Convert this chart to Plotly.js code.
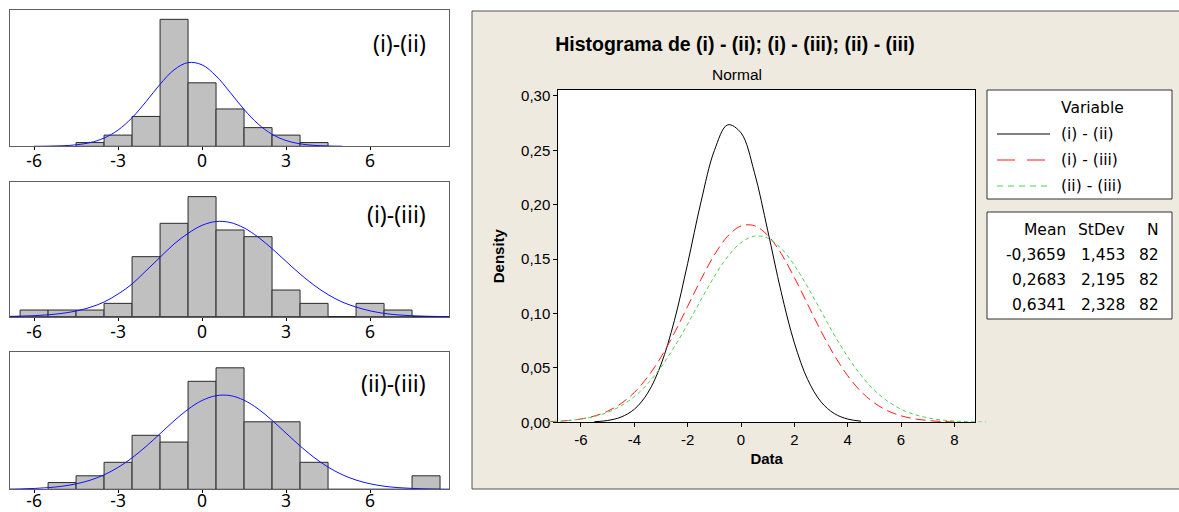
<!DOCTYPE html>
<html>
<head>
<meta charset="utf-8">
<script src="https://cdn.plot.ly/plotly-3.0.1.min.js"></script>
<style>html,body{margin:0;padding:0;background:#fff;}#chart{width:1179px;height:512px;}</style>
</head>
<body>
<div id="chart"></div>
<script>
// ---------- data: left histograms (bin centres, counts) ----------
const panelLabels = ['(i)-(ii)', '(i)-(iii)', '(ii)-(iii)'];
const bins1 = [-4, -3, -2, -1, 0, 1, 2, 3, 4];
const counts1 = [1, 3, 8, 34, 17, 10, 5, 3, 1];
const bins2 = [-6, -5, -4, -3, -2, -1, 0, 1, 2, 3, 4, 5, 6, 7];
const counts2 = [1, 1, 1, 2, 9, 14, 18, 13, 12, 4, 2, 0, 2, 1];
const bins3 = [-5, -4, -3, -2, -1, 0, 1, 2, 3, 4, 5, 6, 7, 8];
const counts3 = [1, 2, 4, 8, 7, 16, 18, 10, 10, 4, 0, 0, 0, 2];

// fitted curves in the left panels (count scale)
const fitX1 = [-6, -5.5, -5, -4.5, -4, -3.5, -3, -2.5, -2, -1.5, -1, -0.5, 0, 0.5, 1, 1.5, 2, 2.5, 3, 3.5, 4, 4.5, 5];
const fitY1 = [0.012, 0.043, 0.14, 0.39, 0.98, 2.20, 4.35, 7.65, 11.97, 16.61, 20.48, 22.42, 21.81, 18.85, 14.47, 9.87, 5.99, 3.22, 1.54, 0.66, 0.25, 0.08, 0.025];
const fitX23 = [-7, -6.5, -6, -5.5, -5, -4.5, -4, -3.5, -3, -2.5, -2, -1.5, -1, -0.5, 0, 0.5, 1, 1.5, 2, 2.5, 3, 3.5, 4, 4.5, 5, 5.5, 6, 6.5, 7, 7.5, 8, 8.5, 9];
const fitY2 = [0.04, 0.08, 0.15, 0.28, 0.5, 0.85, 1.4, 2.2, 3.4, 4.9, 6.9, 8.9, 10.9, 12.5, 13.7, 14.27, 14.13, 13.31, 11.94, 10.2, 8.29, 6.41, 4.72, 3.31, 2.21, 1.45, 0.88, 0.5, 0.27, 0.14, 0.07, 0.03, 0.014];
const fitY3 = [0.028, 0.06, 0.124, 0.244, 0.454, 0.802, 1.344, 2.143, 3.243, 4.66, 6.359, 8.242, 10.14, 11.86, 13.16, 13.87, 13.89, 13.2, 11.92, 10.22, 8.32, 6.43, 4.72, 3.29, 2.18, 1.37, 0.82, 0.46, 0.25, 0.13, 0.062, 0.029, 0.013];

// ---------- data: right panel density curves ----------
const seriesNames = ['(i) - (ii)', '(i) - (iii)', '(ii) - (iii)'];
const densX1 = [-5.5, -5, -4.5, -4, -3.5, -3, -2.5, -2, -1.5, -1, -0.5, 0, 0.5, 1, 1.5, 2, 2.5, 3, 3.5, 4, 4.5];
const densY1 = [0.00053, 0.00168, 0.0048, 0.012, 0.0268, 0.0531, 0.0933, 0.146, 0.2026, 0.2497, 0.2734, 0.266, 0.2299, 0.1765, 0.1204, 0.073, 0.0393, 0.0188, 0.008, 0.003, 0.001];
const densX2 = [-7.3, -7, -6.5, -6, -5.5, -5, -4.5, -4, -3.5, -3, -2.5, -2, -1.5, -1, -0.5, 0, 0.5, 1, 1.5, 2, 2.5, 3, 3.5, 4, 4.5, 5, 5.5, 6, 6.5, 7, 7.5, 8];
const densY2 = [0.0005, 0.00076, 0.00157, 0.00308, 0.00576, 0.0102, 0.0172, 0.0274, 0.0416, 0.06, 0.082, 0.1066, 0.1314, 0.1538, 0.171, 0.1804, 0.1807, 0.1719, 0.1553, 0.1331, 0.1084, 0.0838, 0.0615, 0.0428, 0.0283, 0.0178, 0.0106, 0.006, 0.0032, 0.00165, 0.0008, 0.00037];
const densX3 = [-7.3, -7, -6.5, -6, -5.5, -5, -4.5, -4, -3.5, -3, -2.5, -2, -1.5, -1, -0.5, 0, 0.5, 1, 1.5, 2, 2.5, 3, 3.5, 4, 4.5, 5, 5.5, 6, 6.5, 7, 7.5, 8, 8.5, 9, 9.2];
const densY3 = [0.0005, 0.00079, 0.00157, 0.00295, 0.00533, 0.00916, 0.01506, 0.0236, 0.0354, 0.0507, 0.0693, 0.0903, 0.1126, 0.134, 0.1522, 0.1651, 0.1711, 0.1693, 0.1599, 0.1443, 0.1243, 0.1023, 0.0803, 0.0603, 0.0432, 0.0295, 0.0193, 0.012, 0.0072, 0.0041, 0.0022, 0.00115, 0.00057, 0.00027, 0.0002];

// summary table
const legendTitle = 'Variable';
const statHeader = ['Mean', 'StDev', 'N'];
const statMean = ['-0,3659', '0,2683', '0,6341'];
const statStDev = ['1,453', '2,195', '2,328'];
const statN = ['82', '82', '82'];

const leftTicks = [-6, -3, 0, 3, 6];
const leftTickText = ['-6', '-3', '0', '3', '6'];
const rightXTicks = [-6, -4, -2, 0, 2, 4, 6, 8];
const rightXTickText = ['-6', '-4', '-2', '0', '2', '4', '6', '8'];
const rightYTicks = [0, 0.05, 0.10, 0.15, 0.20, 0.25, 0.30];
const rightYTickText = ['0,00', '0,05', '0,10', '0,15', '0,20', '0,25', '0,30'];

// ---------- helpers ----------
const W = 1179, H = 512;
const px = v => v / W;
const py = v => 1 - v / H;

const seriesColors = ['#000000', '#ff1a1a', '#55cc55'];
const plotDash = ['solid', '10px,5px', '4px,3px'];
const legendDash = ['solid', '18px,12px', '6px,5px'];

const barStyle = {color: '#c0c0c0', line: {color: '#2a2a2a', width: 1}};
const blue = {color: '#1010ff', width: 1, shape: 'spline'};
const leftFont = {family: 'Noto Sans, Open Sans, sans-serif', size: 17.5, color: '#000'};
const rightFont = {family: 'Liberation Sans, Arial, sans-serif', size: 15, color: '#000'};
const boxFont = {family: 'DejaVu Sans, Verdana, sans-serif', size: 15.5, color: '#000'};

// right-panel scale: 26.67 px per unit, zero at x=741 px; curve layer is a wider window at the same scale
const rScale = 26.67, rZero = 741;
const curveLeft = 545, curveRight = 1002;

const traces = [
  {type: 'bar', x: bins1, y: counts1, width: 1, marker: barStyle, xaxis: 'x', yaxis: 'y'},
  {type: 'scatter', mode: 'lines', x: fitX1, y: fitY1, line: blue, xaxis: 'x', yaxis: 'y'},
  {type: 'bar', x: bins2, y: counts2, width: 1, marker: barStyle, xaxis: 'x2', yaxis: 'y2'},
  {type: 'scatter', mode: 'lines', x: fitX23, y: fitY2, line: blue, xaxis: 'x2', yaxis: 'y2'},
  {type: 'bar', x: bins3, y: counts3, width: 1, marker: barStyle, xaxis: 'x3', yaxis: 'y3'},
  {type: 'scatter', mode: 'lines', x: fitX23, y: fitY3, line: blue, xaxis: 'x3', yaxis: 'y3'},
  // empty trace so that the framed density axes are created
  {type: 'scatter', mode: 'lines', x: [], y: [], xaxis: 'x4', yaxis: 'y4', hoverinfo: 'skip'}
];
[[densX1, densY1], [densX2, densY2], [densX3, densY3]].forEach((d, i) => {
  traces.push({type: 'scatter', mode: 'lines', name: seriesNames[i], x: d[0], y: d[1],
    line: {color: seriesColors[i], width: 1, dash: plotDash[i], shape: 'spline'}, xaxis: 'x5', yaxis: 'y5'});
});

function leftX(anchor, standoff) {
  return {
    anchor: anchor, domain: [px(10), px(449)], range: [-6.86, 8.82], tickvals: leftTicks, ticktext: leftTickText,
    ticks: 'outside', ticklen: 3, tickcolor: '#000', ticklabelstandoff: standoff, showgrid: false, zeroline: false,
    showline: true, mirror: true, linecolor: '#606060', linewidth: 1, tickfont: leftFont
  };
}
function leftY(anchor, dom, top) {
  return {anchor: anchor, domain: dom, range: [0, top], showticklabels: false, ticks: '', showgrid: false,
    zeroline: true, zerolinecolor: '#222', zerolinewidth: 1.5, showline: true, mirror: true, linecolor: '#606060', linewidth: 1};
}

const titleFont = {family: 'Liberation Sans, Arial, sans-serif', size: 15, color: '#000'};
const layout = {
  width: W, height: H,
  margin: {l: 0, r: 0, t: 0, b: 0},
  paper_bgcolor: '#ffffff', plot_bgcolor: 'rgba(0,0,0,0)',
  separators: ',.',
  bargap: 0,
  showlegend: false,
  xaxis: leftX('y', -4),
  yaxis: leftY('x', [py(146.3), py(10)], 36.5),
  xaxis2: leftX('y2', -4),
  yaxis2: leftY('x2', [py(316.7), py(182.3)], 20.15),
  xaxis3: leftX('y3', -7),
  yaxis3: leftY('x3', [py(489.3), py(352.3)], 20.3),
  xaxis4: {
    domain: [px(558.3), px(975)], anchor: 'y4', range: [(558.3 - rZero) / rScale, (975 - rZero) / rScale],
    tickvals: rightXTicks, ticktext: rightXTickText,
    ticks: 'outside', ticklen: 4, tickcolor: '#000', showgrid: false, zeroline: false,
    showline: true, mirror: true, linecolor: '#000', linewidth: 1, tickfont: rightFont,
    title: {text: '<b>Data</b>', font: titleFont, standoff: 6}
  },
  yaxis4: {
    domain: [py(422.3), py(90)], anchor: 'x4', range: [0, 0.3054], tickvals: rightYTicks, ticktext: rightYTickText,
    ticks: 'outside', ticklen: 4, tickcolor: '#000', showgrid: false, zeroline: false,
    showline: true, mirror: true, linecolor: '#000', linewidth: 1, tickfont: rightFont,
    title: {text: '<b>Density</b>', font: titleFont, standoff: 12}
  },
  // invisible axes with the same scale, wider window: the curves run past the frame as in the original
  xaxis5: {domain: [px(curveLeft), px(curveRight)], anchor: 'y5', visible: false,
    range: [(curveLeft - rZero) / rScale, (curveRight - rZero) / rScale]},
  yaxis5: {domain: [py(422.3), py(90)], anchor: 'x5', visible: false, range: [0, 0.3054]},
  title: {
    text: '<b>Histograma de (i) - (ii); (i) - (iii); (ii) - (iii)</b>',
    x: px(735), xanchor: 'center', xref: 'paper', y: py(44), yanchor: 'middle', yref: 'paper',
    font: {family: 'Liberation Sans, Arial, sans-serif', size: 19.5, color: '#000'}
  },
  shapes: [
    {type: 'rect', xref: 'paper', yref: 'paper', x0: px(472), x1: 1.01, y0: py(489), y1: py(11),
      fillcolor: '#eeeae0', line: {color: '#555', width: 1}, layer: 'below'},
    {type: 'rect', xref: 'x4 domain', yref: 'y4 domain', x0: 0, x1: 1, y0: 0, y1: 1,
      fillcolor: '#ffffff', line: {width: 0}, layer: 'below'},
    // legend box and statistics box
    {type: 'rect', xref: 'paper', yref: 'paper', x0: px(987), x1: px(1172), y0: py(199), y1: py(90),
      fillcolor: '#ffffff', line: {color: '#333', width: 1}, layer: 'below'},
    {type: 'rect', xref: 'paper', yref: 'paper', x0: px(987), x1: px(1172), y0: py(319), y1: py(212),
      fillcolor: '#ffffff', line: {color: '#333', width: 1}, layer: 'below'}
  ],
  annotations: []
};

// legend (key) entries
const keyRows = [134, 160, 186];
layout.annotations.push({text: legendTitle, xref: 'paper', yref: 'paper', x: px(1092), y: py(108), xanchor: 'center', yanchor: 'middle',
  showarrow: false, font: boxFont});
seriesNames.forEach((n, i) => {
  layout.shapes.push({type: 'line', xref: 'paper', yref: 'paper', x0: px(997), x1: px(1050), y0: py(keyRows[i]), y1: py(keyRows[i]),
    line: {color: seriesColors[i], width: 1, dash: legendDash[i]}});
  layout.annotations.push({text: n, xref: 'paper', yref: 'paper', x: px(1059), y: py(keyRows[i]), xanchor: 'left', yanchor: 'middle',
    showarrow: false, font: boxFont});
});

// panel labels
const labelPos = [[33, 'x domain', 'y domain', 136.3], [31.7, 'x2 domain', 'y2 domain', 134.4], [30.7, 'x3 domain', 'y3 domain', 137]];
panelLabels.forEach((t, i) => {
  layout.annotations.push({text: t, xref: labelPos[i][1], yref: labelPos[i][2], x: (428 - 10) / 439, y: 1 - labelPos[i][0] / labelPos[i][3],
    xanchor: 'right', yanchor: 'middle', showarrow: false,
    font: {family: 'Noto Sans, Open Sans, sans-serif', size: 23, color: '#000'}});
});
// subtitle
layout.annotations.push({text: 'Normal', xref: 'paper', yref: 'paper', x: px(737), y: py(74), xanchor: 'center', yanchor: 'middle',
  showarrow: false, font: {family: 'Liberation Sans, Arial, sans-serif', size: 15.5, color: '#000'}});
// stats table
const colRight = [1068, 1127, 1161];
const rowY = [230, 255, 280, 305];
statHeader.forEach((h, j) => layout.annotations.push({text: h, xref: 'paper', yref: 'paper', x: px(colRight[j]), y: py(rowY[0]),
  xanchor: 'right', yanchor: 'middle', showarrow: false, font: boxFont}));
[statMean, statStDev, statN].forEach((col, j) => col.forEach((v, i) => layout.annotations.push({text: v, xref: 'paper', yref: 'paper',
  x: px(colRight[j]), y: py(rowY[i + 1]), xanchor: 'right', yanchor: 'middle', showarrow: false, font: boxFont})));

Plotly.newPlot('chart', traces, layout, {displayModeBar: false, staticPlot: true});
</script>
</body>
</html>
